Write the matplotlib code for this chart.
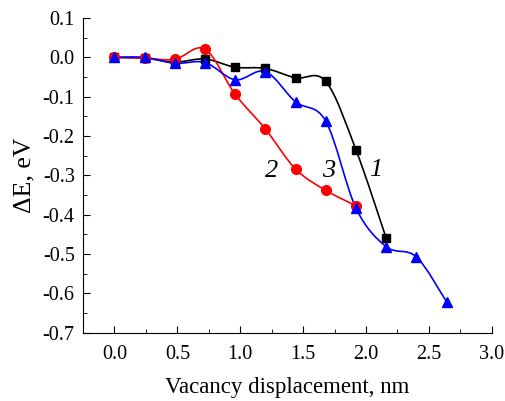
import numpy as np
import matplotlib
matplotlib.use("Agg")
import matplotlib.pyplot as plt
from matplotlib.path import Path
from matplotlib.patches import PathPatch
from matplotlib.ticker import MultipleLocator

plt.rcParams['font.family'] = ['Liberation Serif', 'DejaVu Serif']
plt.rcParams['axes.unicode_minus'] = False

x1 = [0.0, 0.24, 0.48, 0.72, 0.96, 1.2, 1.44, 1.68, 1.92, 2.16]
y1 = [0.0, -0.002, -0.012, -0.004, -0.025, -0.028, -0.052, -0.061, -0.235, -0.459]

x2 = [0.0, 0.24, 0.48, 0.72, 0.96, 1.2, 1.44, 1.68, 1.92]
y2 = [0.0, -0.002, -0.005, 0.021, -0.094, -0.182, -0.284, -0.338, -0.377]

x3 = [0.0, 0.24, 0.48, 0.72, 0.96, 1.2, 1.44, 1.68, 1.92, 2.16, 2.4, 2.64]
y3 = [0.0, 0.0, -0.015, -0.013, -0.057, -0.036, -0.113, -0.162, -0.383, -0.481, -0.507, -0.621]

curve_labels = ['1', '2', '3']
label_x = [2.08, 1.25, 1.70]
label_y = [-0.285, -0.288, -0.288]

xticks = [0.0, 0.5, 1.0, 1.5, 2.0, 2.5, 3.0]
yticks = [-0.7, -0.6, -0.5, -0.4, -0.3, -0.2, -0.1, 0.0, 0.1]


def smooth_patch(ax, xs, ys, color):
    # Catmull-Rom style cubic Bezier through the data points (display style only)
    xs = np.asarray(xs, float)
    ys = np.asarray(ys, float)
    n = len(xs)
    verts = [(xs[0], ys[0])]
    codes = [Path.MOVETO]
    t = 1.0 / 6.0
    for i in range(n - 1):
        p0 = i - 1 if i > 0 else i
        p3 = i + 2 if i + 2 < n else i + 1
        c1 = (xs[i] + (xs[i + 1] - xs[p0]) * t, ys[i] + (ys[i + 1] - ys[p0]) * t)
        c2 = (xs[i + 1] - (xs[p3] - xs[i]) * t, ys[i + 1] - (ys[p3] - ys[i]) * t)
        verts += [c1, c2, (xs[i + 1], ys[i + 1])]
        codes += [Path.CURVE4] * 3
    ax.add_patch(PathPatch(Path(verts, codes), fill=False, edgecolor=color, lw=1.2))


fig = plt.figure(figsize=(5.06, 4.01), dpi=100)
ax = fig.add_axes([0.164, 0.170, 0.808, 0.785])

smooth_patch(ax, x1, y1, 'black')
ax.plot(x1, y1, ls='none', marker='s', ms=6, color='black')
smooth_patch(ax, x2, y2, '#ff0000')
ax.plot(x2, y2, ls='none', marker='o', ms=7, color='#ff0000')
smooth_patch(ax, x3, y3, '#0000ff')
ax.plot(x3, y3, ls='none', marker='^', ms=7.5, color='#0000ff')

for lab, lx, ly in zip(curve_labels, label_x, label_y):
    ax.text(lx, ly, lab, fontsize=19, style='italic', ha='center', va='center')

ax.set_xlim(-0.25, 3.0)
ax.set_ylim(-0.7, 0.1)
ax.set_xticks(xticks)
ax.set_xticklabels([f'{v:.1f}' for v in xticks])
ax.set_yticks(yticks)
ax.set_yticklabels([f'{v:.1f}' for v in yticks])
ax.xaxis.set_minor_locator(MultipleLocator(0.25))
ax.yaxis.set_minor_locator(MultipleLocator(0.05))

for s in ['top', 'right']:
    ax.spines[s].set_visible(False)
ax.tick_params(which='both', direction='in', labelsize=14.5)
ax.tick_params(which='major', length=5)
ax.tick_params(axis='y', which='major', pad=6)
ax.tick_params(axis='x', which='major', pad=9)
ax.tick_params(which='minor', length=3)

ax.set_xlabel('Vacancy displacement, nm', fontsize=16.5, labelpad=9)
ax.set_ylabel('ΔE, eV', fontsize=18.5, labelpad=5)

fig.savefig('out.png', dpi=100)
